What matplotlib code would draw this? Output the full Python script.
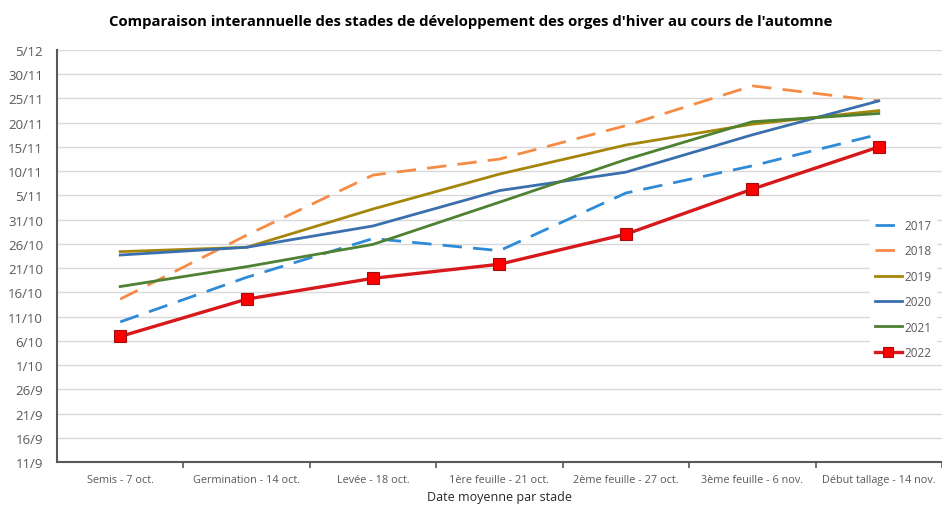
"""Comparaison interannuelle des stades de développement des orges d'hiver."""

from datetime import date, timedelta

import matplotlib

matplotlib.use("Agg")
import matplotlib.pyplot as plt  # noqa: E402

plt.rcParams["font.family"] = ["Open Sans", "DejaVu Sans"]

BASE = date(2022, 9, 11)  # y values = days after 11/9

stades = [
    "Semis - 7 oct.",
    "Germination - 14 oct.",
    "Levée - 18 oct.",
    "1ère feuille - 21 oct.",
    "2ème feuille - 27 oct.",
    "3ème feuille - 6 nov.",
    "Début tallage - 14 nov.",
]
years = ["2017", "2018", "2019", "2020", "2021", "2022"]
y2017 = [28.9, 38.1, 46.1, 43.6, 55.5, 61.1, 67.6]
y2018 = [33.6, 46.8, 59.2, 62.5, 69.4, 77.6, 74.5]
y2019 = [43.4, 44.3, 52.2, 59.4, 65.4, 69.7, 72.5]
y2020 = [42.7, 44.3, 48.7, 56.0, 59.8, 67.5, 74.5]
y2021 = [36.2, 40.3, 44.9, 53.6, 62.4, 70.2, 71.9]
y2022 = [25.9, 33.6, 37.9, 40.8, 47.0, 56.3, 65.0]
series = [y2017, y2018, y2019, y2020, y2021, y2022]

styles = [
    dict(color="#2F8AD8", lw=2.0, ls=(0, (7, 4))),
    dict(color="#F58B45", lw=2.0, ls=(0, (7, 4))),
    dict(color="#A6850B", lw=2.0),
    dict(color="#3A6FAE", lw=2.0),
    dict(color="#4E8131", lw=2.0),
    dict(color="#D7191C", lw=2.4, marker="s", ms=9, mfc="#FF0000", mec="#A01010", mew=0.8),
]

fig = plt.figure(figsize=(9.42, 5.10), dpi=100)
ax = fig.add_axes([57 / 942, 1 - 463 / 510, 1 - 57 / 942, (463 - 51) / 510])

x = range(len(stades))
for yr, vals, st in zip(years, series, styles):
    ax.plot(x, vals, label=yr, zorder=3, **st)

ax.set_xlim(-0.5, len(stades) - 0.5)
ax.set_ylim(0, 85)
yt = list(range(0, 86, 5))
ax.set_yticks(yt)
ax.set_yticklabels([f"{d.day}/{d.month}" for d in (BASE + timedelta(days=v) for v in yt)],
                   fontsize=9.5, color="#595959")
ax.tick_params(axis="y", length=0, pad=10)
ax.set_xticks(list(x))
ax.set_xticklabels(stades, fontsize=7.8, color="#595959")
ax.tick_params(axis="x", which="major", length=0, pad=9)
ax.set_xticks([i - 0.5 for i in range(1, len(stades) + 1)], minor=True)
ax.tick_params(axis="x", which="minor", length=4, width=1.2, color="#595959")

ax.grid(axis="y", color="#D9D9D9", lw=1.0)
ax.set_axisbelow(True)
for s in ("top", "right"):
    ax.spines[s].set_visible(False)
for s in ("left", "bottom"):
    ax.spines[s].set_color("#595959")
    ax.spines[s].set_linewidth(1.5)

ax.set_xlabel("Date moyenne par stade", fontsize=9, color="#262626", labelpad=3)
fig.suptitle("Comparaison interannuelle des stades de développement des orges d'hiver"
             " au cours de l'automne", fontsize=10.7, fontweight="bold", y=0.97)

leg = ax.legend(loc="center left", bbox_to_anchor=(870 / 942, 1 - 290 / 510),
                bbox_transform=fig.transFigure, frameon=True, fancybox=False,
                edgecolor="none", facecolor="white", framealpha=1.0,
                fontsize=8.5, handlelength=2.3, handletextpad=0.25,
                labelspacing=1.05, borderaxespad=0, borderpad=0.4,
                markerscale=0.75)
for t in leg.get_texts():
    t.set_color("#595959")

fig.savefig("out.png")
